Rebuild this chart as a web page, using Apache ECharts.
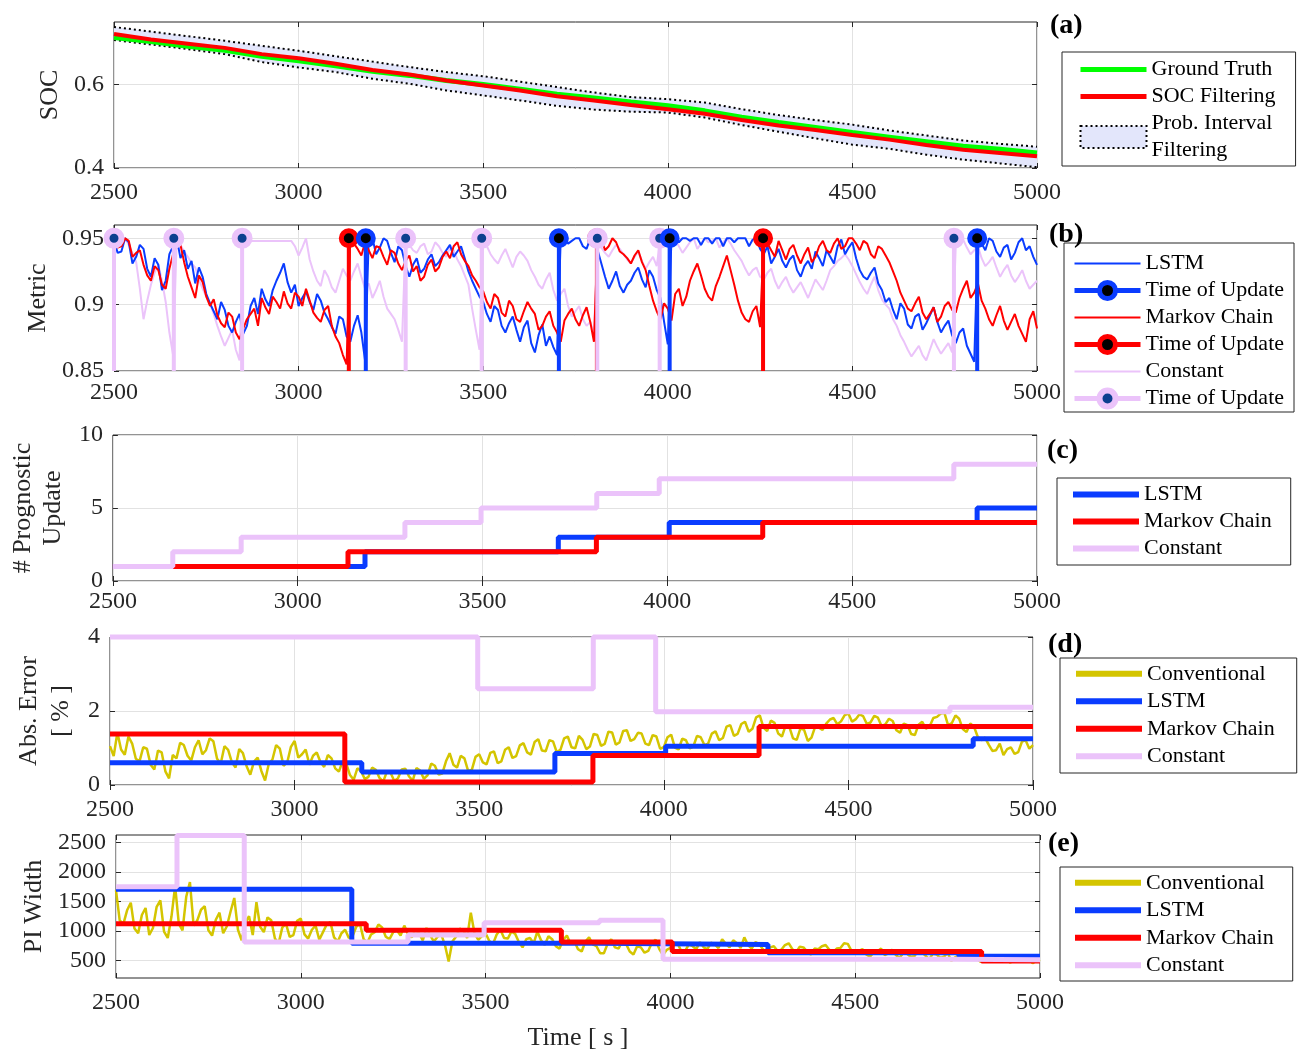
<!DOCTYPE html>
<html><head><meta charset="utf-8">
<script src="https://cdn.jsdelivr.net/npm/echarts@6/dist/echarts.min.js"></script>
<style>html,body{margin:0;padding:0;background:#fff}#c{width:1299px;height:1052px}</style>
</head><body><div id="c"></div>
<script>
// ================= DATA =================
// (a) SOC
const socTime   = [2500,2600,2700,2800,2900,3000,3100,3200,3300,3400,3500,3600,3700,3800,3900,4000,4100,4200,4300,4400,4500,4600,4700,4800,4900,5000];
const socTruth  = [0.713,0.703,0.692,0.682,0.668,0.657,0.645,0.632,0.622,0.610,0.600,0.589,0.577,0.568,0.558,0.549,0.537,0.522,0.509,0.497,0.485,0.474,0.463,0.452,0.445,0.436];
const socFilter = [0.721,0.708,0.698,0.688,0.673,0.663,0.650,0.635,0.624,0.610,0.598,0.586,0.572,0.562,0.551,0.541,0.530,0.515,0.502,0.491,0.479,0.468,0.455,0.444,0.436,0.428];
const socUpper  = [0.738,0.727,0.716,0.705,0.693,0.681,0.668,0.655,0.642,0.630,0.620,0.607,0.594,0.581,0.570,0.565,0.557,0.541,0.527,0.515,0.504,0.490,0.478,0.466,0.458,0.451];
const socLower  = [0.707,0.696,0.685,0.673,0.654,0.641,0.630,0.614,0.602,0.586,0.574,0.562,0.549,0.540,0.535,0.533,0.521,0.503,0.487,0.471,0.456,0.446,0.432,0.420,0.411,0.402];

// (b) Metric, sampled every 10 s from 2500 to 5000
const lstmMetric = [
 0.948,0.939,0.94,0.95,0.947,0.931,0.936,0.945,0.942,0.927,
 0.921,0.935,0.93,0.911,0.918,0.938,0.944,0.95,0.935,0.941,
 0.927,0.933,0.916,0.928,0.921,0.908,0.901,0.895,0.889,0.902,
 0.896,0.884,0.879,0.887,0.893,0.878,0.884,0.899,0.905,0.893,
 0.912,0.904,0.899,0.911,0.918,0.924,0.931,0.917,0.909,0.915,
 0.899,0.905,0.91,0.902,0.896,0.908,0.903,0.894,0.889,0.883,
 0.878,0.891,0.889,0.876,0.872,0.884,0.892,0.879,0.858,0.95,
 0.95,0.938,0.943,0.95,0.948,0.939,0.932,0.944,0.941,0.929,
 0.921,0.93,0.935,0.924,0.927,0.934,0.938,0.929,0.932,0.937,
 0.941,0.945,0.936,0.94,0.944,0.935,0.925,0.918,0.912,0.906,
 0.902,0.893,0.887,0.899,0.896,0.884,0.879,0.886,0.891,0.881,
 0.872,0.883,0.888,0.871,0.864,0.877,0.885,0.869,0.876,0.868,
 0.862,0.95,0.95,0.946,0.948,0.95,0.95,0.944,0.942,0.95,
 0.95,0.941,0.931,0.921,0.912,0.918,0.925,0.914,0.909,0.915,
 0.918,0.924,0.928,0.919,0.913,0.926,0.921,0.911,0.905,0.887,
 0.87,0.95,0.95,0.947,0.95,0.95,0.948,0.95,0.95,0.945,
 0.95,0.95,0.946,0.95,0.95,0.944,0.95,0.95,0.947,0.95,
 0.95,0.95,0.944,0.949,0.95,0.942,0.938,0.944,0.931,0.936,
 0.942,0.933,0.928,0.934,0.937,0.926,0.921,0.929,0.933,0.927,
 0.94,0.935,0.929,0.941,0.936,0.931,0.944,0.949,0.938,0.943,
 0.947,0.935,0.926,0.921,0.919,0.924,0.928,0.916,0.911,0.902,
 0.905,0.896,0.889,0.901,0.897,0.885,0.882,0.891,0.893,0.881,
 0.886,0.892,0.898,0.887,0.879,0.884,0.888,0.877,0.871,0.879,
 0.882,0.869,0.863,0.857,0.95,0.946,0.941,0.95,0.948,0.94,
 0.936,0.943,0.945,0.934,0.939,0.947,0.95,0.941,0.944,0.936,
 0.93];
const markovMetric = [
 0.95,0.943,0.944,0.95,0.948,0.936,0.939,0.941,0.93,0.922,
 0.918,0.929,0.926,0.915,0.912,0.927,0.938,0.95,0.945,0.932,
 0.921,0.913,0.905,0.922,0.917,0.906,0.899,0.904,0.892,0.886,
 0.883,0.894,0.891,0.879,0.874,0.882,0.889,0.893,0.897,0.884,
 0.905,0.898,0.893,0.906,0.902,0.897,0.91,0.901,0.897,0.909,
 0.906,0.899,0.912,0.903,0.894,0.89,0.887,0.896,0.899,0.884,
 0.876,0.871,0.862,0.855,0.95,0.946,0.942,0.937,0.947,0.941,
 0.935,0.944,0.943,0.936,0.93,0.941,0.939,0.931,0.926,0.933,
 0.937,0.925,0.929,0.918,0.921,0.93,0.934,0.925,0.928,0.936,
 0.94,0.935,0.944,0.947,0.938,0.933,0.929,0.922,0.918,0.913,
 0.91,0.902,0.897,0.908,0.905,0.894,0.891,0.903,0.899,0.889,
 0.887,0.895,0.902,0.897,0.893,0.881,0.884,0.891,0.895,0.884,
 0.879,0.872,0.888,0.893,0.897,0.889,0.884,0.892,0.898,0.887,
 0.872,0.95,0.95,0.941,0.944,0.95,0.947,0.94,0.938,0.935,
 0.931,0.937,0.941,0.932,0.926,0.914,0.903,0.895,0.889,0.901,
 0.897,0.888,0.908,0.912,0.899,0.906,0.918,0.925,0.931,0.922,
 0.912,0.906,0.903,0.914,0.921,0.929,0.937,0.926,0.915,0.903,
 0.894,0.889,0.887,0.895,0.899,0.883,0.95,0.946,0.941,0.936,
 0.948,0.941,0.934,0.942,0.945,0.937,0.931,0.938,0.943,0.932,
 0.936,0.944,0.948,0.941,0.939,0.946,0.95,0.942,0.944,0.95,
 0.95,0.946,0.941,0.948,0.946,0.938,0.935,0.944,0.942,0.937,
 0.932,0.925,0.918,0.909,0.903,0.897,0.895,0.901,0.906,0.894,
 0.889,0.893,0.898,0.887,0.891,0.899,0.902,0.896,0.894,0.905,
 0.912,0.918,0.905,0.909,0.916,0.903,0.897,0.889,0.884,0.892,
 0.899,0.888,0.881,0.887,0.893,0.884,0.878,0.872,0.889,0.895,
 0.882];
const constMetric = [
 0.95,0.95,0.948,0.95,0.945,0.939,0.932,0.912,0.889,0.903,
 0.915,0.924,0.93,0.918,0.902,0.879,0.862,0.95,0.945,0.94,
 0.936,0.931,0.928,0.919,0.912,0.906,0.901,0.893,0.884,0.876,
 0.869,0.875,0.881,0.866,0.858,0.95,0.95,0.948,0.948,0.948,
 0.948,0.948,0.948,0.948,0.948,0.948,0.948,0.948,0.948,0.944,
 0.937,0.943,0.95,0.934,0.925,0.918,0.914,0.926,0.921,0.913,
 0.909,0.918,0.927,0.922,0.918,0.925,0.931,0.921,0.912,0.916,
 0.905,0.911,0.918,0.906,0.897,0.893,0.889,0.881,0.872,0.95,
 0.945,0.941,0.939,0.944,0.946,0.938,0.94,0.947,0.944,0.939,
 0.936,0.943,0.941,0.934,0.929,0.922,0.915,0.897,0.881,0.866,
 0.95,0.944,0.938,0.934,0.931,0.937,0.942,0.935,0.928,0.936,
 0.94,0.937,0.933,0.926,0.921,0.915,0.912,0.919,0.924,0.911,
 0.903,0.908,0.912,0.899,0.891,0.895,0.899,0.889,0.884,0.887,
 0.878,0.95,0.943,0.939,0.936,0.941,0.945,0.942,0.938,0.934,
 0.931,0.936,0.94,0.933,0.927,0.932,0.936,0.929,0.95,0.948,
 0.944,0.949,0.95,0.944,0.939,0.943,0.947,0.95,0.942,0.946,
 0.95,0.947,0.948,0.95,0.943,0.947,0.95,0.946,0.941,0.937,
 0.933,0.927,0.922,0.926,0.928,0.921,0.919,0.924,0.927,0.918,
 0.912,0.917,0.921,0.914,0.909,0.913,0.917,0.911,0.905,0.912,
 0.919,0.915,0.911,0.918,0.926,0.929,0.933,0.935,0.938,0.934,
 0.929,0.923,0.917,0.912,0.908,0.915,0.921,0.911,0.904,0.9,
 0.897,0.889,0.884,0.877,0.872,0.866,0.861,0.865,0.869,0.862,
 0.858,0.866,0.874,0.868,0.863,0.867,0.871,0.864,0.945,0.95,
 0.949,0.943,0.938,0.941,0.944,0.935,0.929,0.932,0.936,0.928,
 0.921,0.926,0.93,0.922,0.917,0.921,0.926,0.918,0.912,0.915,
 0.918];
const metricStep = 10;
const metricFloor = 0.85;
const metricCeil = 0.95;

// Update times
const lstmUpdates   = [3182, 3705, 4005, 4838];
const markovUpdates = [3136, 3808, 4258];
const constUpdates  = [2500, 2662, 2847, 3290, 3496, 3809, 3978, 4775];

// (c) number of prognostic updates
const lstmCount   = [1, 2, 3, 4, 5];
const markovCount = [1, 2, 3, 4];
const constCount  = [1, 2, 3, 4, 5, 6, 7, 8];

// (d) absolute error [%], sampled every 10 s
const convError = [
 1.05,0.78,1.42,0.96,0.82,1.31,1.12,0.71,0.64,1.02,
 0.98,0.55,0.42,0.93,0.88,0.37,0.18,0.81,0.72,1.14,
 1.08,0.79,0.66,1.02,1.21,0.83,0.94,1.26,1.18,0.71,
 0.58,1.05,0.95,0.62,0.47,0.97,0.86,0.51,0.28,0.63,
 0.74,0.38,0.12,0.57,0.69,1.08,0.98,0.52,0.61,1.03,
 1.19,0.74,0.83,0.96,0.55,0.79,0.88,0.62,0.49,0.81,
 0.72,0.45,0.36,0.64,0.58,0.27,0.14,0.45,0.38,0.16,
 0.22,0.47,0.41,0.19,0.09,0.36,0.33,0.11,0.18,0.42,
 0.44,0.23,0.12,0.46,0.39,0.17,0.26,0.58,0.52,0.28,
 0.31,0.64,0.86,0.55,0.47,0.79,0.72,0.38,0.41,0.76,
 0.83,0.61,0.56,0.87,0.91,0.59,0.64,0.95,1.02,0.73,
 0.78,1.07,1.13,0.88,0.82,1.16,1.24,0.93,0.91,1.21,
 1.18,0.89,0.95,1.26,1.31,1.02,0.99,1.33,1.22,0.97,
 1.04,1.38,1.35,1.06,1.11,1.44,1.42,1.09,1.15,1.46,
 1.48,1.19,1.24,1.41,1.39,1.12,1.08,1.35,1.31,0.98,
 1.02,1.29,1.36,1.01,0.96,1.25,1.21,0.99,1.04,1.33,
 1.29,1.08,1.12,1.39,1.45,1.21,1.27,1.58,1.62,1.33,
 1.38,1.65,1.71,1.44,1.52,1.83,1.88,1.55,1.46,1.74,
 1.68,1.39,1.31,1.61,1.57,1.26,1.22,1.53,1.49,1.19,
 1.28,1.58,1.55,1.49,1.66,1.77,1.81,1.64,1.72,1.89,
 1.93,1.71,1.78,1.91,1.86,1.65,1.69,1.87,1.82,1.59,
 1.64,1.79,1.73,1.48,1.41,1.66,1.62,1.38,1.35,1.63,
 1.71,1.52,1.58,1.81,1.84,1.93,1.95,1.62,1.67,1.88,
 1.79,1.51,1.43,1.66,1.58,1.31,1.21,1.28,1.09,0.92,
 0.94,1.12,0.81,0.97,1.02,0.84,0.89,1.17,1.21,0.98,
 1.08];
const lstmError   = [0.6, 0.35, 0.85, 1.05, 1.25];
const markovError = [1.38, 0.08, 0.8, 1.58];
const constError  = [4, 4, 4, 4, 2.6, 4, 1.98, 2.1];

// (e) PI width, sampled every 10 s
const convWidth = [
 1690,1180,1120,1350,1480,1040,960,1270,1390,930,
 1050,1410,1520,990,880,1240,1760,1120,1010,1580,
 1830,1090,1180,1360,1420,1010,920,1190,1310,960,
 1080,1330,1560,1020,840,1140,1250,930,1490,1070,
 980,1230,1180,870,790,1060,1120,900,930,1170,
 1210,940,870,1020,1090,850,980,1110,1150,890,
 820,960,1020,880,910,1070,1120,860,800,940,
 980,1110,1060,900,860,980,1010,920,1090,950,
 890,1020,960,840,1050,930,820,900,940,760,
 480,820,900,1040,1010,880,1310,960,850,910,
 960,830,780,940,1020,880,870,990,950,810,
 720,860,880,790,990,840,760,910,860,740,
 700,850,920,780,830,690,650,820,890,770,
 740,620,620,780,860,720,700,830,780,650,
 600,740,720,630,660,800,850,690,590,680,
 710,760,780,650,660,770,740,690,810,720,
 690,800,770,710,860,780,720,840,790,710,
 890,760,700,810,780,690,620,720,740,660,
 680,760,790,690,640,730,720,650,600,700,
 690,740,760,680,640,700,710,790,780,660,
 620,660,690,600,560,640,650,700,590,620,
 680,590,540,630,610,560,570,660,640,580,
 520,610,600,540,560,630,490,550,580,520,
 530,600,600,520,470,560,550,490,510,570,
 580,500,460,530,540,480,500,560,450,490,
 510];
const convStep = 10;
const lstmWidthTime   = [2500, 3138, 3801, 4264, 4781];
const lstmWidth       = [1710, 790, 770, 630, 570];
const markovWidthTime = [2500, 3177, 3705, 4005, 4842];
const markovWidth     = [1120, 1010, 810, 650, 490];
const constWidthTime  = [2500, 2665, 2847, 3290, 3496, 3808, 3980, 4775];
const constWidth      = [1750, 2620, 810, 930, 1140, 1180, 520, 510];

const timeStart = 2500, timeEnd = 5000;

// ================= STYLE =================
const FONT = 'Liberation Serif';
const AX = '#262626';
const GRIDLINE = '#e2e2e2';
const COL = {green:'#00ff00', red:'#ff0000', blue:'#0a3cff', pink:'#ebc3fa', yellow:'#d4c500', band:'#e3e6fb', navy:'#0c3f8f'};

const grids = [
  {left:114, top:22,  width:923, height:146},
  {left:114, top:225, width:923, height:146},
  {left:112, top:435, width:925, height:146},
  {left:110, top:637, width:923, height:148},
  {left:116, top:835, width:924, height:147}
];
const yCfg = [
  {min:0.4,  max:0.75, ticks:[0.4,0.6],              name:'SOC',                  gap:50, lh:26},
  {min:0.85, max:0.96, ticks:[0.85,0.9,0.95],         name:'Metric',               gap:62, lh:26},
  {min:0,    max:10,   ticks:[0,5,10],                name:'# Prognostic\nUpdate', gap:43, lh:30},
  {min:0,    max:4,    ticks:[0,2,4],                 name:'Abs. Error\n[ % ]',    gap:27, lh:32},
  {min:200,  max:2630, ticks:[500,1000,1500,2000,2500], name:'PI Width',           gap:60, lh:26}
];
const xMargins = [13, 10, 9, 13, 13];

const xAxis = [], yAxis = [];
grids.forEach((g, i) => {
  const tick = {show:true, inside:true, length:5, lineStyle:{color:AX, width:1}};
  xAxis.push({
    gridIndex:i, type:'value', position:'bottom', min:timeStart, max:timeEnd, interval:500,
    axisLine:{show:false}, axisTick:tick,
    axisLabel:{margin:xMargins[i], fontFamily:FONT, fontSize:24, color:AX, formatter:v => String(v)},
    splitLine:{show:true, lineStyle:{color:GRIDLINE, width:1}},
    name: i === 4 ? 'Time [ s ]' : '', nameLocation:'middle', nameGap:47,
    nameTextStyle:{fontFamily:FONT, fontSize:26, color:AX}
  });
  xAxis.push({
    gridIndex:i, type:'value', position:'top', min:timeStart, max:timeEnd, interval:500,
    axisLine:{show:false}, axisTick:tick, axisLabel:{show:false}, splitLine:{show:false}
  });
  const c = yCfg[i];
  yAxis.push({
    gridIndex:i, type:'value', position:'left', min:c.min, max:c.max,
    axisLine:{show:false},
    axisTick:Object.assign({customValues:c.ticks}, tick),
    axisLabel:{customValues:c.ticks, margin:10, fontFamily:FONT, fontSize:24, color:AX, formatter:v => String(v)},
    splitLine:{show:true, lineStyle:{color:GRIDLINE, width:1}},
    name:c.name, nameLocation:'middle', nameRotate:90, nameGap:c.gap,
    nameTextStyle:{fontFamily:FONT, fontSize:26, color:AX, lineHeight:c.lh}
  });
  yAxis.push({
    gridIndex:i, type:'value', position:'right', min:c.min, max:c.max,
    axisLine:{show:false},
    axisTick:Object.assign({customValues:c.ticks}, tick),
    axisLabel:{show:false}, splitLine:{show:false}
  });
});

function pairs(xs, ys) { return xs.map((x, k) => [x, ys[k]]); }
function sampled(ys, step) { return ys.map((y, k) => [timeStart + step * k, y]); }
function steps(xs, ys) { const d = pairs(xs, ys); d.push([timeEnd, ys[ys.length - 1]]); return d; }
function line(name, gi, data, color, width, extra) {
  return Object.assign({
    name, type:'line', xAxisIndex:gi*2, yAxisIndex:gi*2, data,
    symbol:'none', showSymbol:false, lineStyle:{color, width}, itemStyle:{color},
    emphasis:{disabled:true}, animation:false
  }, extra || {});
}
function stems(name, times, ring, core, border, z) {
  const data = [];
  times.forEach(t => {
    data.push({value:[t, metricFloor], symbol:'none'});
    data.push({value:[t, metricCeil]});
    data.push({value:[t, '-']});
  });
  return {
    name, type:'line', xAxisIndex:2, yAxisIndex:2, data, z,
    symbol:'circle', symbolSize:15, showSymbol:true, showAllSymbol:true, connectNulls:false, clip:false,
    lineStyle:{color:ring, width:4}, itemStyle:{color:core, borderColor:ring, borderWidth:border},
    emphasis:{disabled:true}, animation:false
  };
}

const series = [
  // (a)
  {
    name:'Prob. Interval\nFiltering', type:'custom', xAxisIndex:0, yAxisIndex:0, z:1,
    data: socTime.map((t, k) => [t, socLower[k], socUpper[k]]),
    encode:{x:0, y:[1, 2]},
    itemStyle:{color:COL.band},
    renderItem: (params, api) => {
      if (params.dataIndex !== 0) return null;
      const pts = [];
      for (let k = 0; k < socTime.length; k++) pts.push(api.coord([socTime[k], socUpper[k]]));
      for (let k = socTime.length - 1; k >= 0; k--) pts.push(api.coord([socTime[k], socLower[k]]));
      return {type:'polygon', shape:{points:pts}, style:{fill:COL.band}};
    },
    animation:false
  },
  line('piUpper', 0, pairs(socTime, socUpper), '#000', 2, {lineStyle:{color:'#000', width:2, type:[2,3]}}),
  line('piLower', 0, pairs(socTime, socLower), '#000', 2, {lineStyle:{color:'#000', width:2, type:[2,3]}}),
  line('Ground Truth', 0, pairs(socTime, socTruth), COL.green, 5),
  line('SOC Filtering', 0, pairs(socTime, socFilter), COL.red, 4),
  // (b)
  line('Constant', 1, sampled(constMetric, metricStep), COL.pink, 2),
  line('LSTM', 1, sampled(lstmMetric, metricStep), COL.blue, 2),
  line('Markov Chain', 1, sampled(markovMetric, metricStep), COL.red, 2),
  stems('ToU Markov', markovUpdates, COL.red, '#000', 5, 5),
  stems('ToU Constant', constUpdates, COL.pink, COL.navy, 6, 6),
  stems('ToU LSTM', lstmUpdates, COL.blue, '#000', 5, 7),
  // (c)
  line('LSTM', 2, steps([timeStart].concat(lstmUpdates), lstmCount), COL.blue, 5, {step:'end', clip:false}),
  line('Markov Chain', 2, steps([timeStart].concat(markovUpdates), markovCount), COL.red, 5, {step:'end', clip:false}),
  line('Constant', 2, steps(constUpdates, constCount), COL.pink, 5, {step:'end', clip:false}),
  // (d)
  line('Conventional', 3, sampled(convError, convStep), COL.yellow, 2.5),
  line('LSTM', 3, steps([timeStart].concat(lstmUpdates), lstmError), COL.blue, 5, {step:'end', clip:false}),
  line('Markov Chain', 3, steps([timeStart].concat(markovUpdates), markovError), COL.red, 5, {step:'end', clip:false}),
  line('Constant', 3, steps(constUpdates, constError), COL.pink, 5, {step:'end', clip:false}),
  // (e)
  line('Conventional', 4, sampled(convWidth, convStep), COL.yellow, 2.5),
  line('LSTM', 4, steps(lstmWidthTime, lstmWidth), COL.blue, 5, {step:'end', clip:false}),
  line('Markov Chain', 4, steps(markovWidthTime, markovWidth), COL.red, 5, {step:'end', clip:false}),
  line('Constant', 4, steps(constWidthTime, constWidth), COL.pink, 5, {step:'end', clip:false})
];

// ================= LEGENDS =================
function lineItem(name, color, width) {
  return {name, lineStyle:{color, width, type:'solid', opacity:1}, itemStyle:{color, opacity:0, borderWidth:0}};
}
function legend(left, top, padding, lineHeight, itemHeight, data, extra) {
  return Object.assign({
    left, top, padding, orient:'vertical', itemGap:0, itemWidth:66, itemHeight,
    selectedMode:false, borderColor:AX, borderWidth:1, backgroundColor:'#fff', borderRadius:0,
    textStyle:{fontFamily:FONT, fontSize:22, color:'#000', lineHeight},
    data
  }, extra || {});
}
const legends = [
  legend(1062, 52, [4,20,2,16], 27, 22, [
    lineItem('Ground Truth', COL.green, 5),
    lineItem('SOC Filtering', COL.red, 5),
    {name:'Prob. Interval\nFiltering', icon:'rect', itemStyle:{color:COL.band, borderColor:'#000', borderWidth:2, borderType:[2,3], opacity:1}}
  ]),
  legend(1064, 243, [7,10,0,8], 27, 20, [
    lineItem('LSTM', COL.blue, 2),
    {name:'ToU LSTM', lineStyle:{color:COL.blue, width:5}, itemStyle:{color:'#000', borderColor:COL.blue, borderWidth:5, opacity:1}},
    lineItem('Markov Chain', COL.red, 2),
    {name:'ToU Markov', lineStyle:{color:COL.red, width:5}, itemStyle:{color:'#000', borderColor:COL.red, borderWidth:5, opacity:1}},
    lineItem('Constant', COL.pink, 2),
    {name:'ToU Constant', lineStyle:{color:COL.pink, width:5}, itemStyle:{color:COL.navy, borderColor:COL.pink, borderWidth:6, opacity:1}}
  ], {formatter: n => n.indexOf('ToU') === 0 ? 'Time of Update' : n}),
  legend(1057, 478, [3,19,3,13], 27, 20, [
    lineItem('LSTM', COL.blue, 6),
    lineItem('Markov Chain', COL.red, 6),
    lineItem('Constant', COL.pink, 6)
  ]),
  legend(1060, 658, [2,22,3,13], 27.5, 20, [
    lineItem('Conventional', COL.yellow, 6),
    lineItem('LSTM', COL.blue, 6),
    lineItem('Markov Chain', COL.red, 6),
    lineItem('Constant', COL.pink, 6)
  ]),
  legend(1060, 867, [2,19,2,12], 27.5, 20, [
    lineItem('Conventional', COL.yellow, 6),
    lineItem('LSTM', COL.blue, 6),
    lineItem('Markov Chain', COL.red, 6),
    lineItem('Constant', COL.pink, 6)
  ])
];

const panelLabels = [['(a)',1050,12],['(b)',1049,221],['(c)',1047,437],['(d)',1048,631],['(e)',1048,830]];
const title = panelLabels.map(p => ({
  text:p[0], left:p[1], top:p[2], padding:0,
  textStyle:{fontFamily:FONT, fontSize:28, fontWeight:'bold', color:'#000'}
}));

const chart = echarts.init(document.getElementById('c'), null, {renderer:'canvas'});
chart.setOption({
  animation:false,
  backgroundColor:'#fff',
  title,
  grid: grids.map(g => Object.assign({show:true, borderColor:AX, borderWidth:1, backgroundColor:'transparent', containLabel:false}, g)),
  xAxis, yAxis, series, legend: legends
});
</script>
</body></html>
